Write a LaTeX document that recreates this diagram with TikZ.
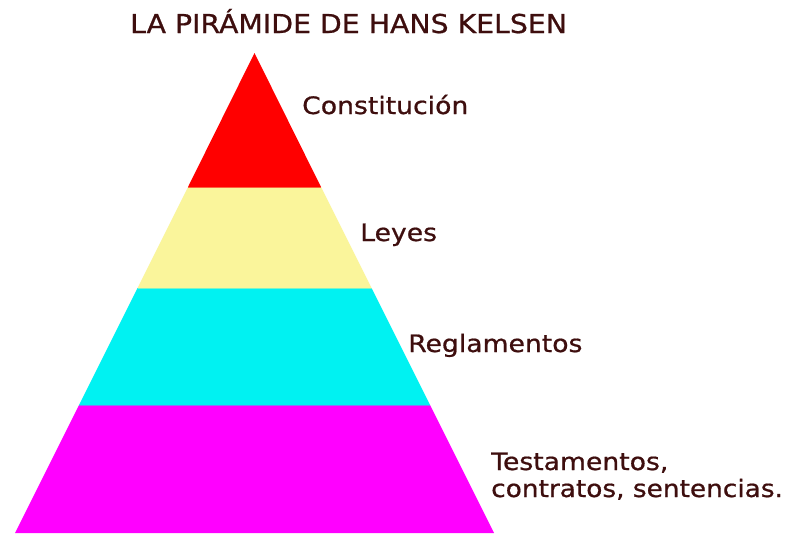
\documentclass[tikz,border=0pt]{standalone}
\usepackage{fontspec}
\setmainfont{DejaVu Sans}
\newfontface\medfont[FakeBold=0.7]{DejaVu Sans}
\definecolor{txt}{RGB}{62,14,14}
\definecolor{lred}{RGB}{255,0,0}
\definecolor{lyellow}{RGB}{250,245,155}
\definecolor{lcyan}{RGB}{0,242,242}
\definecolor{lmag}{RGB}{255,0,255}
\begin{document}
\begin{tikzpicture}[x=1pt,y=-1pt,
  lbl/.style={anchor=base west,inner sep=0pt,text=txt,font=\medfont\fontsize{24}{28}\selectfont,xscale=1.11},
  ttl/.style={anchor=base west,inner sep=0pt,text=txt,font=\medfont\fontsize{26}{30}\selectfont,xscale=1.09}]
\useasboundingbox (0,0) rectangle (786,533);
\fill[white] (0,0) rectangle (786,533);
% pyramid corners
\coordinate (apex) at (254.5,53);
\coordinate (l1) at (188,187);   \coordinate (r1) at (321,187);
\coordinate (l2) at (137.5,288); \coordinate (r2) at (371.5,288);
\coordinate (l3) at (79,405);    \coordinate (r3) at (430,405);
\coordinate (l4) at (15,533);    \coordinate (r4) at (494,533);
\fill[lred] (apex) -- (r1) -- (l1) -- cycle;
\fill[lyellow] (l1) -- (r1) -- (r2) -- (l2) -- cycle;
\fill[lcyan] (l2) -- (r2) -- (r3) -- (l3) -- cycle;
\fill[lmag] (l3) -- (r3) -- (r4) -- (l4) -- cycle;
\draw[line width=0.6pt,draw=lred!60!lyellow] (l1) -- (r1);
\draw[line width=0.6pt,draw=lyellow!50!lcyan] (l2) -- (r2);
\draw[line width=0.6pt,draw=lcyan!50!lmag] (l3) -- (r3);
% labels
\node[ttl] (title) at (130,33) {LA PIRÁMIDE DE HANS KELSEN};
\node[lbl] (c) at (302,114) {Constitución};
\node[lbl] (l) at (360,241) {Leyes};
\node[lbl] (r) at (408,352) {Reglamentos};
\node[lbl] (t1) at (491,470) {Testamentos,};
\node[lbl,xscale=0.99] (t2) at (491,497) {contratos, sentencias.};
\end{tikzpicture}
\end{document}
